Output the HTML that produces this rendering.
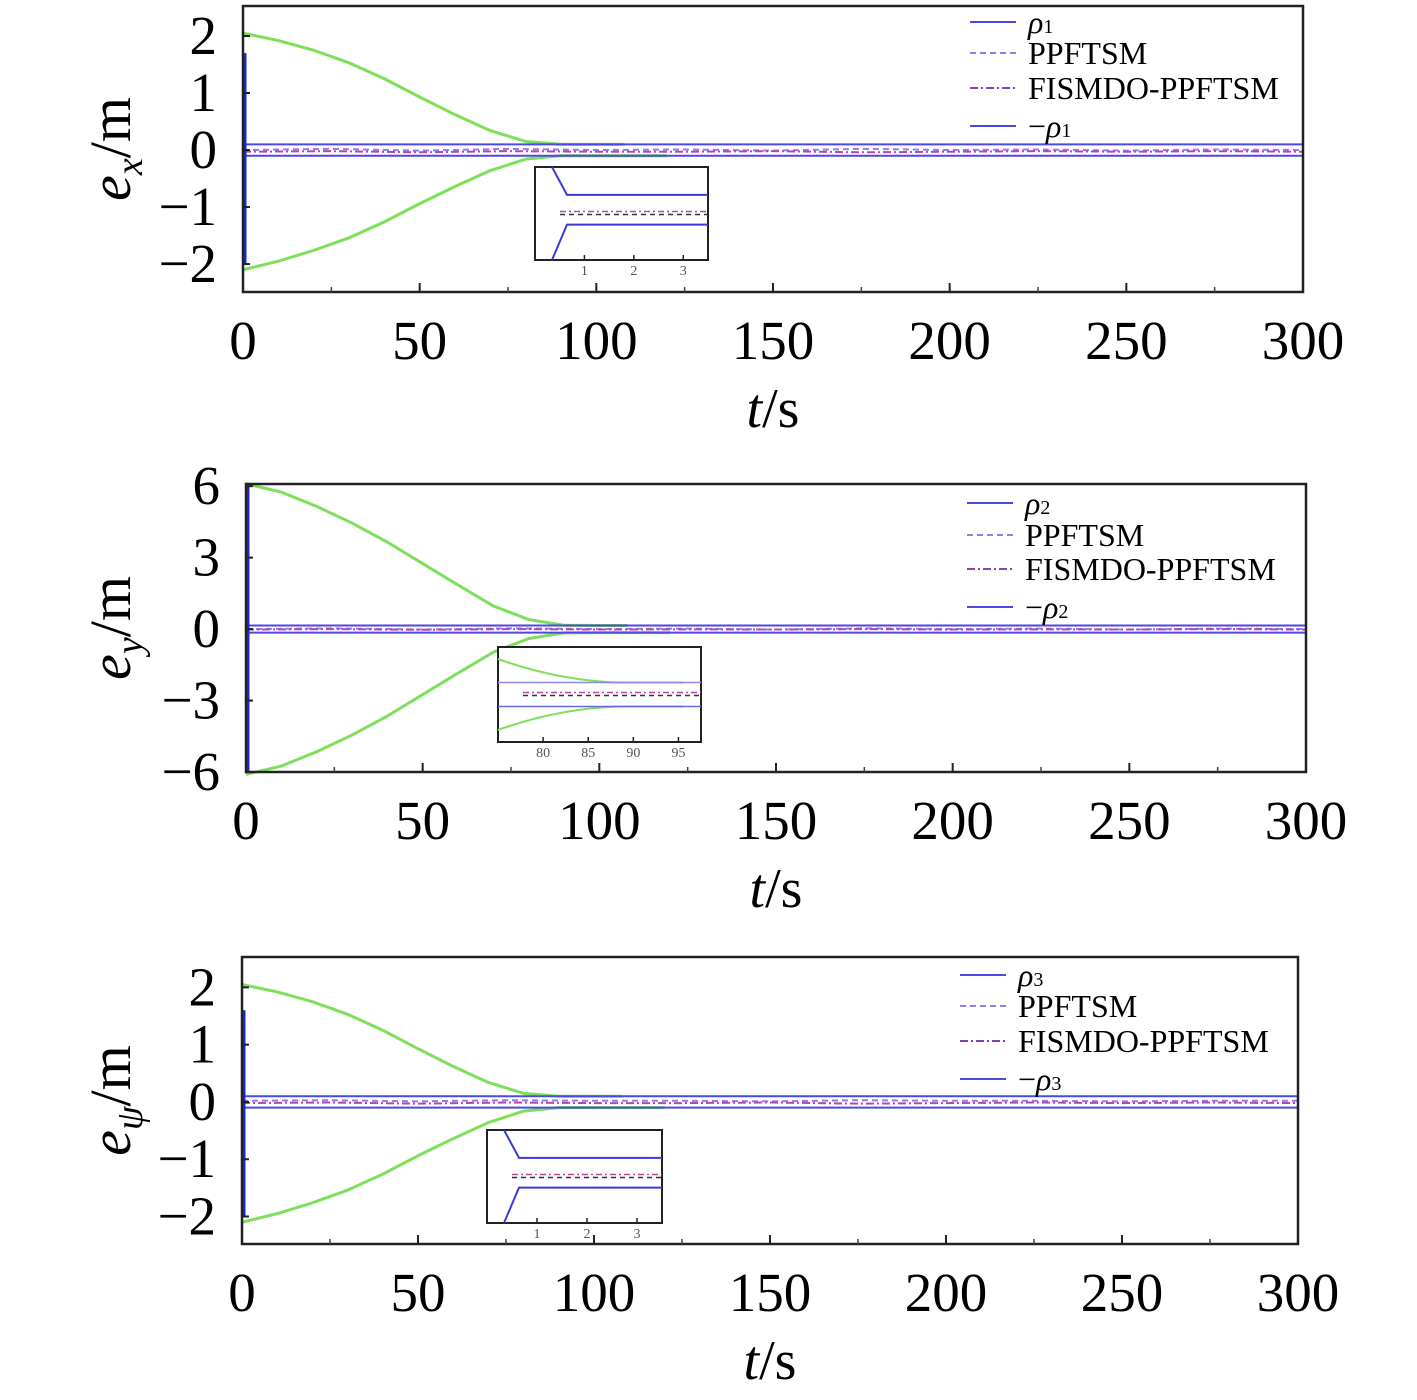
<!DOCTYPE html>
<html><head><meta charset="utf-8">
<style>
html,body{margin:0;padding:0;background:#fff;}
svg{display:block;font-family:"Liberation Serif",serif;}
</style></head>
<body>
<svg id="fig" width="1417" height="1400" viewBox="0 0 1417 1400" xmlns="http://www.w3.org/2000/svg"></svg>
<script>
// ---- data ----
const xTicks = [0,50,100,150,200,250,300];
const yTicks1 = [-2,-1,0,1,2];
const yTicks2 = [-6,-3,0,3,6];
const yTicks3 = [-2,-1,0,1,2];
const envT = [0,10,20,30,40,50,60,70,80,90,100,108];
const envUp1 = [2.05,1.92,1.75,1.53,1.25,0.93,0.62,0.34,0.15,0.1,0.1,0.1];
const envLoT = [0,10,20,30,40,50,60,70,80,90,100,110,120];
const envLo1 = [-2.1,-1.95,-1.76,-1.54,-1.26,-0.94,-0.64,-0.36,-0.16,-0.1,-0.1,-0.1,-0.1];
const envUp2 = [6.1,5.75,5.15,4.45,3.65,2.75,1.85,0.97,0.4,0.16,0.15,0.15];
const envLo2 = [-6.1,-5.75,-5.15,-4.45,-3.65,-2.75,-1.85,-0.97,-0.4,-0.16,-0.15,-0.15,-0.15];
const rhoT = [0,300];
const rho1 = [0.1,0.1];
const rho2 = [0.15,0.15];
const rho3 = [0.1,0.1];
const noiseT = [0,25,50,75,100,125,150,175,200,225,250,275,300];
const pp1 = [0.0,0.02,-0.01,0.02,0.0,0.01,-0.01,0.02,0.0,0.01,-0.01,0.01,0.0];
const fis1 = [-0.03,-0.02,-0.04,-0.02,-0.03,-0.03,-0.02,-0.04,-0.03,-0.02,-0.03,-0.02,-0.03];
const pp2 = [0.0,0.03,-0.02,0.03,0.0,0.02,-0.02,0.03,0.0,0.02,-0.02,0.02,0.0];
const fis2 = [-0.02,0.0,-0.03,0.0,-0.02,-0.01,-0.02,0.0,-0.02,-0.01,-0.02,0.0,-0.02];
const pp3 = [0.02,0.03,0.01,0.03,0.02,0.02,0.01,0.03,0.02,0.02,0.01,0.02,0.02];
const fis3 = [-0.02,-0.01,-0.03,-0.01,-0.02,-0.02,-0.01,-0.03,-0.02,-0.01,-0.02,-0.01,-0.02];
const spikeV1 = [1.7,-2.0];
const spikeV2 = [6.0,-6.0];
const spikeV3 = [1.6,-2.0];

const NS='http://www.w3.org/2000/svg';
const svg=document.getElementById('fig');
function el(tag,attrs,parent){const e=document.createElementNS(NS,tag);for(const k in attrs)e.setAttribute(k,attrs[k]);(parent||svg).appendChild(e);return e;}

function panel(cfg){
  const g=el('g',{});
  
  
  const sx=t=>cfg.x0+(t-0)/(300-0)*(cfg.x1-cfg.x0);
  const sy=v=>cfg.yb+(v-cfg.ymin)/(cfg.ymax-cfg.ymin)*(cfg.yt-cfg.yb);
  const line=(ts,vs,stroke,w,dash,name)=>{
    const p=el('polyline',{points:ts.map((t,i)=>sx(t)+','+sy(vs[i])).join(' '),fill:'none',stroke:stroke,'stroke-width':w,'stroke-linejoin':'round'},g);
    if(dash)p.setAttribute('stroke-dasharray',dash);
    
    
  };
  line(envT,cfg.up,'#7ee05a',3,null,'green-upper-curve');
  line(envLoT,cfg.lo,'#7ee05a',3,null,'green-lower-curve');
  line(rhoT,cfg.rho,'#4a4ae0',2,null,'rho-line');
  line(rhoT,cfg.rho.map(v=>-v),'#4a4ae0',2,null,'neg-rho-line');
  line(noiseT,cfg.pp,'#8a7ef0',2,'6,4','ppftsm-line');
  line(noiseT,cfg.fis,'#c040b0',2,'8,3,2,3','fismdo-ppftsm-line');
  const sp=el('line',{x1:sx(0)+2,x2:sx(0)+2,y1:sy(cfg.spike[0]),y2:sy(cfg.spike[1]),stroke:'#1a2ad0','stroke-width':3},g);
  
  
  const fr=el('rect',{x:cfg.x0,y:cfg.yt,width:cfg.x1-cfg.x0,height:cfg.yb-cfg.yt,fill:'none',stroke:'#222','stroke-width':2.5},g);
  
  
  xTicks.forEach(t=>{
    el('line',{x1:sx(t),x2:sx(t),y1:cfg.yb,y2:cfg.yb-9,stroke:'#222','stroke-width':2},g);
    if(t<300) el('line',{x1:sx(t+25),x2:sx(t+25),y1:cfg.yb,y2:cfg.yb-5,stroke:'#444','stroke-width':1.5},g);
    const tx=el('text',{x:sx(t),y:cfg.yb+67,'font-size':55,'text-anchor':'middle'},g);
    tx.textContent=t;
    
    
  });
  cfg.yticks.forEach(v=>{
    el('line',{x1:cfg.x0,x2:cfg.x0+7,y1:sy(v),y2:sy(v),stroke:'#222','stroke-width':2},g);
    const tx=el('text',{x:cfg.x0-26,y:sy(v)+18,'font-size':55,'text-anchor':'end'},g);
    tx.textContent=v<0?'\u2212'+(-v):String(v);
    
    
  });
  const xt=el('text',{x:(sx(0)+sx(300))/2,y:cfg.yb+135,'font-size':56,'text-anchor':'middle'},g);
  xt.innerHTML='<tspan font-style="italic">t</tspan>/s';
  
  
  const ymid=(cfg.yt+cfg.yb)/2;
  const yt=el('text',{x:0,y:0,'font-size':58,'text-anchor':'middle',transform:`translate(130,${ymid}) rotate(-90)`},g);
  yt.innerHTML='<tspan font-style="italic">e</tspan><tspan font-style="italic" font-size="38" dy="12">'+cfg.sub+'</tspan><tspan dy="-12">/m</tspan>';
  
  
  const lg=el('g',{},g);
  
  
  const labels=['<tspan font-style="italic">ρ</tspan><tspan font-size="20">'+cfg.n+'</tspan>','PPFTSM','FISMDO-PPFTSM','\u2212<tspan font-style="italic">ρ</tspan><tspan font-size="20">'+cfg.n+'</tspan>'];
  const styles=[['#4a4ae0',null],['#8a7ef0','6,4'],['#8040b0','8,3,2,3'],['#4a4ae0',null]];
  cfg.lrows.forEach((ry,i)=>{
    const l=el('line',{x1:cfg.lx,x2:cfg.lx+46,y1:ry,y2:ry,stroke:styles[i][0],'stroke-width':2},lg);
    if(styles[i][1])l.setAttribute('stroke-dasharray',styles[i][1]);
    const t=el('text',{x:cfg.lx+58,y:ry+11,'font-size':32},lg);
    t.innerHTML=labels[i];
    
    
  });
  const ig=el('g',{},g);
  
  
  const b=cfg.inset;
  el('rect',{x:b[0],y:b[1],width:b[2]-b[0],height:b[3]-b[1],fill:'#fff',stroke:'#222','stroke-width':2},ig);
  const im=(b[1]+b[3])/2, ih=b[3]-b[1];
  if(cfg.n==2){
    el('path',{d:`M${b[0]} ${b[1]+12} Q${b[0]+60} ${im-14} ${b[0]+120} ${im-12} L${b[0]+185} ${im-12}`,fill:'none',stroke:'#7ee05a','stroke-width':2},ig);
    el('path',{d:`M${b[0]} ${b[3]-12} Q${b[0]+60} ${im+14} ${b[0]+120} ${im+12} L${b[0]+185} ${im+12}`,fill:'none',stroke:'#7ee05a','stroke-width':2},ig);
    el('line',{x1:b[0],x2:b[2],y1:im-12,y2:im-12,stroke:'#8a8af0','stroke-width':1.5},ig);
    el('line',{x1:b[0],x2:b[2],y1:im+12,y2:im+12,stroke:'#6a6ae0','stroke-width':1.5},ig);
  } else {
    const k=b[0]+22;
    el('path',{d:`M${k-5} ${b[1]} L${k+10} ${im-ih*0.2} L${b[2]} ${im-ih*0.2}`,fill:'none',stroke:'#3a3ad8','stroke-width':2},ig);
    el('path',{d:`M${k-5} ${b[3]} L${k+10} ${im+ih*0.12} L${b[2]} ${im+ih*0.12}`,fill:'none',stroke:'#3a3ad8','stroke-width':2},ig);
  }
  el('line',{x1:b[0]+25,x2:b[2],y1:im-2,y2:im-2,stroke:'#c040b0','stroke-width':1.5,'stroke-dasharray':'6,3,2,3'},ig);
  el('line',{x1:b[0]+25,x2:b[2],y1:im+1,y2:im+1,stroke:'#333','stroke-width':1.5,'stroke-dasharray':'5,4'},ig);
  cfg.itl.forEach((s,i)=>{
    const x=b[0]+(i+1)*(b[2]-b[0])/(cfg.itl.length+0.5);
    el('line',{x1:x,x2:x,y1:b[3],y2:b[3]-5,stroke:'#222','stroke-width':1.5},ig);
    const t=el('text',{x:x,y:b[3]+15,'font-size':14,'text-anchor':'middle',fill:'#555'},ig);
    t.textContent=s;
  });
}

panel({name:'panel-ex',n:1,sub:'x',x0:243,x1:1303,yt:6,yb:292,ymin:-2.49,ymax:2.526,yticks:yTicks1,
  up:envUp1,lo:envLo1,rho:rho1,pp:pp1,fis:fis1,spike:spikeV1,lx:970,lrows:[22,53,88,126],
  inset:[535,167,708,260],itl:['1','2','3']});
panel({name:'panel-ey',n:2,sub:'y',x0:246,x1:1306,yt:484,yb:772,ymin:-6.0,ymax:6.09,yticks:yTicks2,
  up:envUp2,lo:envLo2,rho:rho2,pp:pp2,fis:fis2,spike:spikeV2,lx:967,lrows:[503,535,569,607],
  inset:[498,647,701,742],itl:['80','85','90','95']});
panel({name:'panel-epsi',n:3,sub:'ψ',x0:242,x1:1298,yt:957,yb:1244,ymin:-2.48,ymax:2.53,yticks:yTicks3,
  up:envUp1,lo:envLo1,rho:rho3,pp:pp3,fis:fis3,spike:spikeV3,lx:960,lrows:[975,1006,1041,1079],
  inset:[487,1130,662,1223],itl:['1','2','3']});
</script>
</body></html>
